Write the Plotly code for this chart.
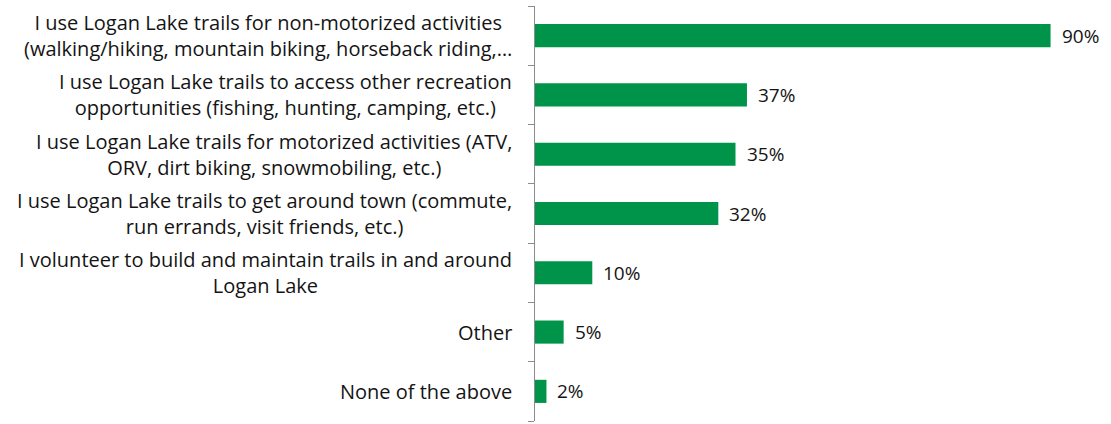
import plotly.graph_objects as go

categories = [
    "I use Logan Lake trails for non-motorized activities<br>(walking/hiking, mountain biking, horseback riding,…",
    "I use Logan Lake trails to access other recreation<br>opportunities (fishing, hunting, camping, etc.)",
    "I use Logan Lake trails for motorized activities (ATV,<br>ORV, dirt biking, snowmobiling, etc.)",
    "I use Logan Lake trails to get around town (commute,<br>run errands, visit friends, etc.)",
    "I volunteer to build and maintain trails in and around<br>Logan Lake",
    "Other",
    "None of the above",
]
values = [90, 37, 35, 32, 10, 5, 2]
labels = ["90%", "37%", "35%", "32%", "10%", "5%", "2%"]

font_family = "Open Sans, Noto Sans, sans-serif"
text_color = "#141414"

fig = go.Figure()
fig.add_trace(go.Bar(
    y=categories,
    x=values,
    orientation="h",
    marker=dict(color="#00934A", line=dict(width=0)),
    width=0.39,
    hoverinfo="skip",
))

for c, v, t in zip(categories, values, labels):
    # value label
    fig.add_annotation(x=v, y=c, text=t, showarrow=False, xanchor="left",
                       xshift=9, font=dict(size=19, color=text_color, family=font_family))
    # category label, centred lines, right-aligned block
    fig.add_annotation(x=0, y=c, text=c, showarrow=False, xanchor="right",
                       align="center", xshift=-21, yshift=0,
                       font=dict(size=20, color=text_color, family=font_family))

fig.update_layout(
    width=1111, height=424,
    margin=dict(l=535, r=2, t=6, b=3),
    paper_bgcolor="white", plot_bgcolor="white",
    showlegend=False,
    font=dict(family=font_family, size=17, color=text_color),
)
fig.update_xaxes(range=[0, 100.2], visible=False, showgrid=False, zeroline=False)
fig.update_yaxes(
    categoryorder="array", categoryarray=categories[::-1],
    showline=True, linecolor="#8c8c8c", linewidth=1,
    ticks="outside", ticklen=6, tickcolor="#8c8c8c", tickson="boundaries",
    showticklabels=False,
    showgrid=False, zeroline=False, automargin=False,
)

fig.write_html("out.html", config={"displayModeBar": False},
               post_script="document.body.style.margin='0';")
